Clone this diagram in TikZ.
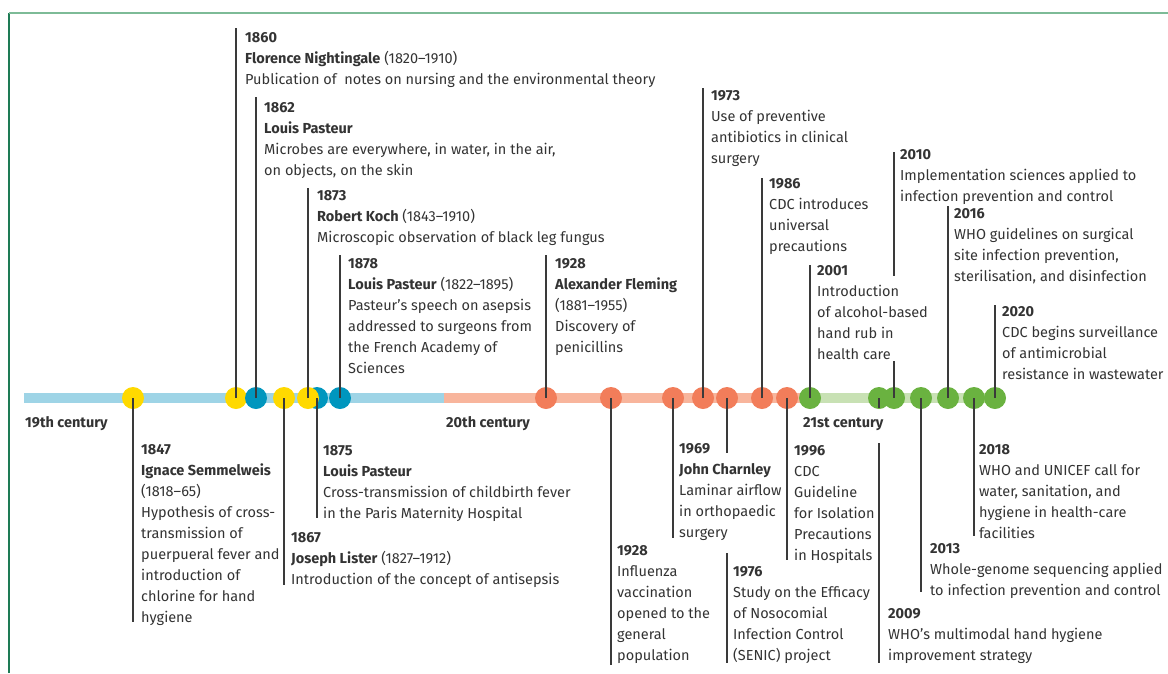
\documentclass[tikz,border=0pt]{standalone}
\usepackage{fontspec}
\setmainfont{Fira Sans}

\definecolor{ink}{HTML}{333333}
\definecolor{stemgray}{HTML}{3A3A3A}
\definecolor{framedark}{HTML}{1E7B55}
\definecolor{framelight}{HTML}{7DBB97}
\definecolor{barblue}{HTML}{9ED4E6}
\definecolor{dotblue}{HTML}{0096BE}
\definecolor{dotyellow}{HTML}{FFD900}
\definecolor{barsalmon}{HTML}{F8B59C}
\definecolor{dotsalmon}{HTML}{F27D5A}
\definecolor{bargreen}{HTML}{C8E1B4}
\definecolor{dotgreen}{HTML}{6AB240}

\tikzset{
  dot/.style={circle, fill=#1, minimum size=22pt, inner sep=0pt},
  evt/.style={anchor=north west, align=left, inner sep=0pt, text=ink,
    font=\fontsize{14.5}{21}\selectfont},
  era/.style={anchor=base west, inner sep=0pt, text=ink,
    font=\fontsize{14.5}{21}\selectfont\bfseries},
  stem/.style={draw=stemgray, line width=1.2pt},
}

\begin{document}
\begin{tikzpicture}[x=1pt, y=-1pt]
  \useasboundingbox (0,0) rectangle (1168,673);

  % frame
  \draw[framedark, line width=1.5pt] (9,673) -- (9,13);
  \draw[framelight, line width=1.5pt] (9,13) -- (1168,13);

  % century bars
  \fill[barblue] (24,393) rectangle (444,403);
  \fill[barsalmon] (444,393) rectangle (803,403);
  \fill[bargreen] (803,393) rectangle (990,403);

  \node[era] (c19) at (25,427) {19th century};
  \node[era] (c20) at (446,427) {20th century};
  \node[era] (c21) at (803,427) {21st century};

  % dots
  \foreach \n/\x/\c in {1847/133/dotyellow, 1860/236/dotyellow, 1862/256/dotblue,
      1867/284/dotyellow, 1875/317/dotblue, 1873/308/dotyellow, 1878/340/dotblue,
      1928f/546/dotsalmon, 1928i/611/dotsalmon, 1969/673/dotsalmon, 1973/703/dotsalmon,
      1976/727/dotsalmon, 1986/762/dotsalmon, 1996/787/dotsalmon,
      2001/810/dotgreen, 2009/879/dotgreen, 2010/894/dotgreen, 2013/921/dotgreen,
      2016/948/dotgreen, 2018/974/dotgreen, 2020/995/dotgreen}
    \node[dot=\c] (d\n) at (\x,398) {};

  % events above the line
  \node[evt] (t1860) at (245,32) {\textbf{1860}\\\textbf{Florence Nightingale} (1820--1910)\\Publication of\ \ notes on nursing and the environmental theory};
  \node[evt] (t1862) at (264,102) {\textbf{1862}\\\textbf{Louis Pasteur}\\Microbes are everywhere, in water, in the air,\\on objects, on the skin};
  \node[evt] (t1873) at (317,190) {\textbf{1873}\\\textbf{Robert Koch} (1843--1910)\\Microscopic observation of black leg fungus};
  \node[evt] (t1878) at (348,258) {\textbf{1878}\\\textbf{Louis Pasteur} (1822--1895)\\Pasteur’s speech on asepsis\\addressed to surgeons from\\the French Academy of\\Sciences};
  \node[evt] (t1928f) at (555,258) {\textbf{1928}\\\textbf{Alexander Fleming}\\(1881--1955)\\Discovery of\\penicillins};
  \node[evt] (t1973) at (711,90) {\textbf{1973}\\Use of preventive\\antibiotics in clinical\\surgery};
  \node[evt] (t1986) at (769,178) {\textbf{1986}\\CDC introduces\\universal\\precautions};
  \node[evt] (t2001) at (817,265) {\textbf{2001}\\Introduction\\of alcohol-based\\hand rub in\\health care};
  \node[evt] (t2010) at (900,149) {\textbf{2010}\\Implementation sciences applied to\\infection prevention and control};
  \node[evt] (t2016) at (954,208) {\textbf{2016}\\WHO guidelines on surgical\\site infection prevention,\\sterilisation, and disinfection};
  \node[evt] (t2020) at (1002,306) {\textbf{2020}\\CDC begins surveillance\\of antimicrobial\\resistance in wastewater};

  % events below the line
  \node[evt] (t1847) at (141,444) {\textbf{1847}\\\textbf{Ignace Semmelweis}\\(1818--65)\\Hypothesis of cross-\\transmission of\\puerpueral fever and\\introduction of\\chlorine for hand\\hygiene};
  \node[evt] (t1867) at (291,532) {\textbf{1867}\\\textbf{Joseph Lister} (1827--1912)\\Introduction of the concept of antisepsis};
  \node[evt] (t1875) at (323,445) {\textbf{1875}\\\textbf{Louis Pasteur}\\Cross-transmission of childbirth fever\\in the Paris Maternity Hospital};
  \node[evt] (t1928i) at (617,545) {\textbf{1928}\\Influenza\\vaccination\\opened to the\\general\\population};
  \node[evt] (t1969) at (679,443) {\textbf{1969}\\\textbf{John Charnley}\\Laminar airflow\\in orthopaedic\\surgery};
  \node[evt] (t1976) at (733,566) {\textbf{1976}\\Study on the Efficacy\\of Nosocomial\\Infection Control\\(SENIC) project};
  \node[evt] (t1996) at (794,445) {\textbf{1996}\\CDC\\Guideline\\for Isolation\\Precautions\\in Hospitals};
  \node[evt] (t2009) at (888,608) {\textbf{2009}\\WHO’s multimodal hand hygiene\\improvement strategy};
  \node[evt] (t2013) at (930,543) {\textbf{2013}\\Whole-genome sequencing applied\\to infection prevention and control};
  \node[evt] (t2018) at (979,444) {\textbf{2018}\\WHO and UNICEF call for\\water, sanitation, and\\hygiene in health-care\\facilities};

  % stems
  \foreach \n/\y in {1860/28, 1862/97, 1873/188, 1878/255, 1928f/255, 1973/88,
      1986/178, 2001/265, 2016/206, 2020/305, 1847/622, 1867/585, 1875/518,
      1928i/665, 1969/538, 1996/560, 2013/592, 2018/536} {
    \coordinate (e\n) at (d\n |- 0,\y);
    \draw[stem] (d\n.center) -- (e\n);
  }
  % stems broken by other texts
  \coordinate (e2010a) at (d2010 |- 0,152);
  \coordinate (e2010b) at (d2010 |- 0,276);
  \coordinate (e2010c) at (d2010 |- 0,361);
  \draw[stem] (e2010a) -- (e2010b);
  \draw[stem] (e2010c) -- (d2010.center);
  \coordinate (e1976a) at (d1976 |- 0,453);
  \coordinate (e1976b) at (d1976 |- 0,553);
  \coordinate (e1976c) at (d1976 |- 0,663);
  \draw[stem] (d1976.center) -- (e1976a);
  \draw[stem] (e1976b) -- (e1976c);
  \coordinate (e2009a) at (d2009 |- 0,408);
  \coordinate (e2009b) at (d2009 |- 0,443);
  \coordinate (e2009c) at (d2009 |- 0,663);
  \draw[stem] (d2009.center) -- (e2009a);
  \draw[stem] (e2009b) -- (e2009c);
\end{tikzpicture}
\end{document}
